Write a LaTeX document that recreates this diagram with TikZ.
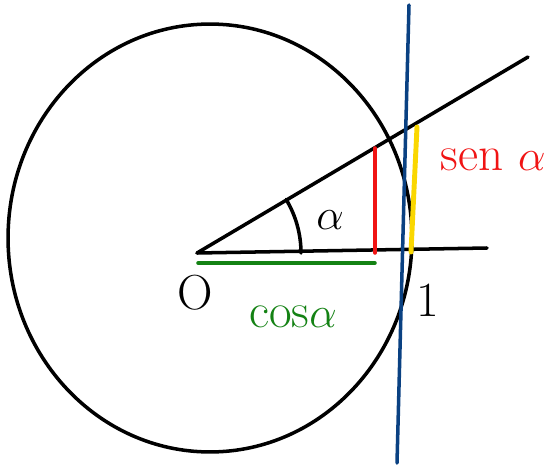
\documentclass[tikz,border=0pt]{standalone}
\usepackage{amsmath}
\usepackage{xcolor}
\usepackage{tikz}
\usetikzlibrary{arrows.meta,positioning}

\definecolor{inkgreen}{RGB}{20,130,20}
\definecolor{inkred}{RGB}{240,20,20}
\definecolor{inkyellow}{RGB}{250,215,0}
\definecolor{inkblue}{RGB}{10,65,130}

\begin{document}
\begin{tikzpicture}[
  x=0.02cm, y=0.02cm,
  stroke/.style={line width=2pt, line cap=round, line join=round},
  lbl/.style={font=\fontsize{28}{28}\selectfont, inner sep=0pt}
]
\useasboundingbox (0,0) rectangle (554,464);
% points of the sketch
\coordinate (O) at (197,211);
\coordinate (xend) at (487,216);
\coordinate (rend) at (528,407);
\coordinate (ctr) at (210,226);
\coordinate (sinfoot) at (375,211);
\coordinate (sintop) at (375,316);
\coordinate (tanfoot) at (411,212);
\coordinate (tantop) at (417,337);
\coordinate (tgtop) at (409,459);
\coordinate (tgbot) at (397,1);
\coordinate (cosa) at (198,201);
\coordinate (cosb) at (375,201);
\coordinate (arcstart) at (301,211);

% unit circle and the two rays
\draw[stroke] (ctr) ellipse [x radius=4.04cm, y radius=4.28cm];
\draw[stroke] (O) -- (xend);
\draw[stroke] (O) -- (rend);
\draw[stroke] (arcstart) arc[start angle=0, end angle=31, radius=2.08cm];

% tangent line
\draw[stroke, inkblue] (tgtop) -- (tgbot);

% sine, cosine, tangent segments
\draw[stroke, inkred] (sinfoot) -- (sintop);
\draw[stroke, inkgreen] (cosa) -- (cosb);
\draw[line width=2.8pt, inkyellow, line cap=round] (tanfoot) -- (tantop);

% labels
\node[lbl] (alpha) at (330,244) {$\alpha$};
\node[lbl, inkred] (sen) at (493,304) {sen $\alpha$};
\node[lbl, inkgreen] (cos) at (293,147) {cos$\alpha$};
\node[lbl] (zero) at (195,171) {O};
\node[lbl] (one) at (428,164) {1};
\end{tikzpicture}
\end{document}
